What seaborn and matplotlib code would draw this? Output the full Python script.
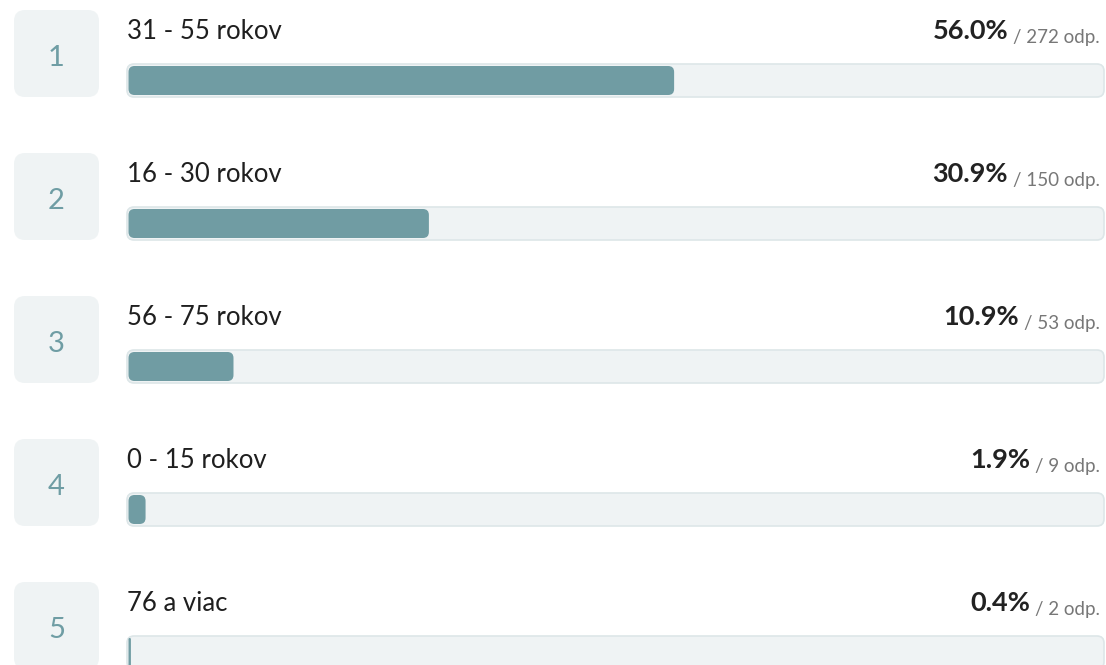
import numpy as np
import pandas as pd
import matplotlib
matplotlib.use("Agg")
import matplotlib.pyplot as plt
from matplotlib.patches import FancyBboxPatch
import seaborn as sns

sns.set_theme(style='white')
plt.rcParams['font.family'] = ['Lato', 'DejaVu Sans']

# data
ranks = [1, 2, 3, 4, 5]
labels = ['31 - 55 rokov', '16 - 30 rokov', '56 - 75 rokov', '0 - 15 rokov', '76 a viac']
percents = [56.0, 30.9, 10.9, 1.9, 0.4]
answers = [272, 150, 53, 9, 2]

df = pd.DataFrame({'label': labels, 'pct': percents, 'full': [100] * len(labels)})

W, H = 1106, 665
PITCH = 143
TRACK_COLOR = '#eff3f4'
TRACK_EDGE = '#dde6e8'
FILL_COLOR = '#709ca3'
NUM_COLOR = '#6f9da4'

fig = plt.figure(figsize=(W / 100, H / 100), dpi=100)
fig.patch.set_facecolor('white')

# background axes in pixel units for boxes and text
bg = fig.add_axes([0, 0, 1, 1])
bg.set_xlim(0, W)
bg.set_ylim(H, 0)
bg.axis('off')

# bar axes: x in percent, y is the row
ax = fig.add_axes([127 / W, 0, 977 / W, 1])
sns.barplot(data=df, x='full', y='label', orient='h', color=TRACK_COLOR,
            width=33 / PITCH, ax=ax, saturation=1)
n_track = len(ax.patches)
sns.barplot(data=df, x='pct', y='label', orient='h', color=FILL_COLOR,
            width=29 / PITCH, ax=ax, saturation=1)
ax.set_xlim(0, 100)
ax.set_ylim((H - 80.5) / PITCH, -80.5 / PITCH)
ax.axis('off')

# px per data unit
px_x = 977 / 100
px_y = PITCH

# turn the seaborn rectangles into rounded bars
bars = list(ax.patches)
for i, p in enumerate(bars):
    x0, y0 = p.get_x(), p.get_y()
    w, h = p.get_width(), p.get_height()
    p.remove()
    is_track = i < n_track
    if not is_track:
        x0 += 1.5 / px_x
        w = max(w - 1.5 / px_x, 0.1)
    r_px = 7 if is_track else 6
    r_px = min(r_px, w * px_x / 2, h * px_y / 2)
    rounded = FancyBboxPatch((x0, y0), w, h,
                             boxstyle=f"round,pad=0,rounding_size={r_px / px_x}",
                             mutation_aspect=px_x / px_y,
                             facecolor=p.get_facecolor(),
                             edgecolor=TRACK_EDGE if is_track else 'none',
                             linewidth=1.2 if is_track else 0,
                             zorder=1 if is_track else 2, clip_on=False)
    ax.add_patch(rounded)

for i, (rk, lab, pc, n) in enumerate(zip(ranks, labels, percents, answers)):
    top = i * PITCH
    box = FancyBboxPatch((14, top + 10), 85, 87,
                         boxstyle="round,pad=0,rounding_size=11",
                         facecolor=TRACK_COLOR, edgecolor='none')
    bg.add_patch(box)
    bg.text(56.5, top + 66, str(rk), ha='center', va='baseline',
            fontsize=21, color=NUM_COLOR)
    bg.text(127, top + 39, lab, ha='left', va='baseline',
            fontsize=18.5, color='#1f1f1f')
    odp = bg.text(1100, top + 43, f'/ {n} odp.', ha='right', va='baseline',
                  fontsize=13.5, color='#777777')
    fig.canvas.draw()
    bb = odp.get_window_extent().transformed(bg.transData.inverted())
    bg.text(bb.x0 - 5, top + 39, f'{pc:.1f}%', ha='right', va='baseline',
            fontsize=19.5, fontweight='bold', color='#222222')

fig.savefig('out.png', dpi=100, facecolor='white')
